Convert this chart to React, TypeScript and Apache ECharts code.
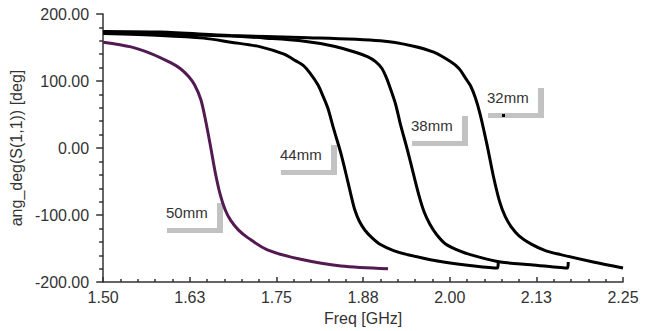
import React, { useEffect, useRef } from "react";
import * as echarts from "echarts";

// Frequency (GHz) / phase (deg)
const freq50 = [1.5, 1.54, 1.569, 1.598, 1.612, 1.623, 1.632, 1.641, 1.648, 1.655, 1.662, 1.669, 1.676, 1.684, 1.695, 1.709, 1.737, 1.785, 1.843, 1.911];
const deg50 = [158, 151, 141, 127, 118, 107, 94, 72, 40, 2, -38, -70, -92, -108, -122, -134, -152, -166, -176, -180];

const freq44 = [1.5, 1.583, 1.645, 1.684, 1.727, 1.761, 1.778, 1.789, 1.799, 1.81, 1.817, 1.824, 1.833, 1.843, 1.853, 1.858, 1.863, 1.87, 1.878, 1.888, 1.9, 1.919, 1.939, 1.991, 2.069, 2.07];
const deg44 = [171, 168, 164, 158, 151, 140, 130, 123, 111, 94, 78, 60, 27, -8, -50, -72, -92, -110, -123, -134, -144, -153, -159, -170, -179, -170];

const freq38 = [1.5, 1.583, 1.684, 1.735, 1.785, 1.833, 1.864, 1.882, 1.893, 1.902, 1.909, 1.915, 1.922, 1.929, 1.939, 1.948, 1.956, 1.963, 1.971, 1.981, 1.994, 2.016, 2.04, 2.073, 2.117, 2.17, 2.171];
const deg38 = [173, 170, 167, 164, 160, 152, 143, 136, 129, 119, 104, 87, 65, 35, -3, -40, -72, -95, -113, -129, -143, -154, -162, -170, -174, -179, -170];

const freq32 = [1.5, 1.583, 1.684, 1.785, 1.9, 1.948, 1.977, 2.001, 2.013, 2.023, 2.03, 2.037, 2.044, 2.054, 2.063, 2.072, 2.08, 2.089, 2.1, 2.117, 2.138, 2.16, 2.207, 2.25];
const deg32 = [174, 173, 168, 165, 160, 152, 143, 129, 119, 104, 93, 75, 50, 4, -42, -80, -102, -118, -131, -143, -153, -159, -170, -179];

const seriesNames = ["50mm", "44mm", "38mm", "32mm"];
const xMin = 1.5;
const xMax = 2.25;
const xStep = 0.125;
const yMin = -200;
const yMax = 200;
const yStep = 100;

// label box layout (pixels)
const labelBoxes = [
  { text: "50mm", x: 167, y: 212 },
  { text: "44mm", x: 281, y: 154 },
  { text: "38mm", x: 412, y: 125 },
  { text: "32mm", x: 488, y: 97 },
];

const FONT = 'Arial, "Liberation Sans", sans-serif';

function zip(xs: number[], ys: number[]) {
  return xs.map((x, i) => [x, ys[i]]);
}

export default function App() {
  const ref = useRef<HTMLDivElement>(null);
  useEffect(() => {
    if (!ref.current) return;
    const chart = echarts.init(ref.current, null, { renderer: "svg" });
    const datasets = [
      zip(freq50, deg50),
      zip(freq44, deg44),
      zip(freq38, deg38),
      zip(freq32, deg32),
    ];
    const colors = ["#531a52", "#000000", "#000000", "#000000"];

    const graphics: any[] = [];
    labelBoxes.forEach((b) => {
      graphics.push({
        type: "rect",
        shape: { x: b.x, y: b.y + 16, width: 56, height: 5 },
        style: { fill: "#c2c2c2" },
        silent: true,
      });
      graphics.push({
        type: "rect",
        shape: { x: b.x + 50, y: b.y - 9, width: 6, height: 30 },
        style: { fill: "#c2c2c2" },
        silent: true,
      });
      graphics.push({
        type: "text",
        x: b.x - 1,
        y: b.y,
        style: {
          text: b.text,
          fill: "#333333",
          fontSize: 15,
          fontFamily: FONT,
          verticalAlign: "middle",
          align: "left",
        },
        silent: true,
      });
    });
    graphics.push({
      type: "rect",
      shape: { x: 502, y: 114, width: 3, height: 3 },
      style: { fill: "#000" },
      silent: true,
    });

    chart.setOption({
      animation: false,
      backgroundColor: "#ffffff",
      grid: { left: 102, right: 31, top: 14, bottom: 43, containLabel: false },
      xAxis: {
        type: "value",
        min: xMin,
        max: xMax,
        interval: xStep,
        name: "Freq [GHz]",
        nameLocation: "middle",
        nameGap: 21,
        nameTextStyle: { color: "#333", fontSize: 16, fontFamily: FONT },
        axisLine: { show: true, onZero: false, lineStyle: { color: "#333", width: 1.5 } },
        axisTick: { show: true, inside: true, length: 5, lineStyle: { color: "#333", width: 1.5 } },
        minorTick: { show: true, splitNumber: 5, length: 3, lineStyle: { color: "#333", width: 1.5 } },
        axisLabel: {
          color: "#333",
          fontSize: 16,
          fontFamily: FONT,
          margin: 7,
          formatter: (v: number) => v.toFixed(2),
        },
        splitLine: { show: false },
      },
      yAxis: {
        type: "value",
        min: yMin,
        max: yMax,
        interval: yStep,
        name: "ang_deg(S(1,1)) [deg]",
        nameLocation: "middle",
        nameGap: 70,
        nameTextStyle: { color: "#333", fontSize: 16, fontFamily: FONT },
        axisLine: { show: true, onZero: false, lineStyle: { color: "#333", width: 1.5 } },
        axisTick: { show: true, inside: false, length: 7, lineStyle: { color: "#333", width: 1.5 } },
        minorTick: { show: true, splitNumber: 5, length: 4, lineStyle: { color: "#333", width: 1.5 } },
        axisLabel: {
          color: "#333",
          fontSize: 16,
          fontFamily: FONT,
          margin: 14,
          formatter: (v: number) => v.toFixed(2),
        },
        splitLine: { show: false },
      },
      graphic: graphics,
      series: datasets.map((d, i) => ({
        name: seriesNames[i],
        type: "line",
        data: d,
        showSymbol: false,
        smooth: 0.3,
        clip: true,
        lineStyle: { color: colors[i], width: 3 },
        itemStyle: { color: colors[i] },
        z: 3,
      })),
    });
    return () => chart.dispose();
  }, []);
  return (
    <div
      ref={ref}
      style={{ position: "fixed", left: 0, top: 0, width: 654, height: 331, background: "#fff" }}
    />
  );
}
